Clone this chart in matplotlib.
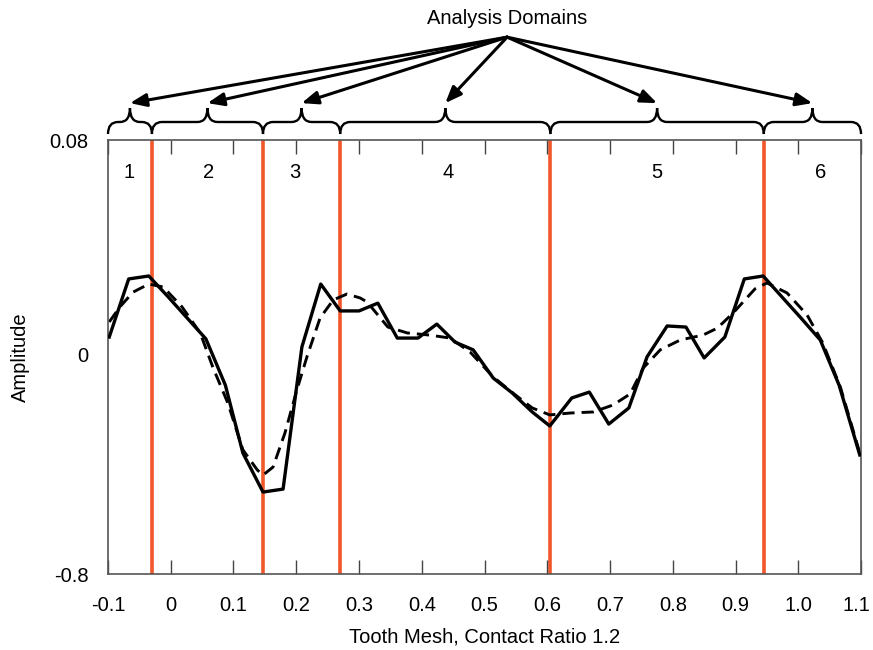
import matplotlib
matplotlib.use('Agg')
import matplotlib.pyplot as plt
import matplotlib.transforms as mtransforms
from matplotlib.path import Path
from matplotlib.patches import PathPatch
import numpy as np

plt.rcParams['font.family'] = ['Liberation Sans', 'DejaVu Sans']

# measured signal (solid) and its fit (dashed)
x_meas = [-0.098, -0.067, -0.035, -0.004, 0.026, 0.056, 0.087, 0.115, 0.147, 0.179,
          0.209, 0.239, 0.270, 0.300, 0.330, 0.361, 0.394, 0.424, 0.453, 0.482,
          0.514, 0.544, 0.576, 0.604, 0.639, 0.667, 0.698, 0.730, 0.759, 0.791,
          0.821, 0.850, 0.883, 0.914, 0.944, 0.974, 1.003, 1.035, 1.065, 1.098]
y_meas = [0.0067, 0.0283, 0.0294, 0.0216, 0.0138, 0.0060, -0.0112, -0.0365, -0.0510, -0.0499,
          0.0030, 0.0264, 0.0164, 0.0164, 0.0193, 0.0063, 0.0063, 0.0115, 0.0048, 0.0019,
          -0.0086, -0.0141, -0.0212, -0.0264, -0.0160, -0.0138, -0.0257, -0.0197, -0.0007, 0.0108,
          0.0104, -0.0011, 0.0067, 0.0283, 0.0294, 0.0216, 0.0141, 0.0056, -0.0112, -0.0372]

x_fit = [-0.098, -0.081, -0.060, -0.035, -0.012, 0.018, 0.047, 0.067, 0.091, 0.115,
         0.138, 0.147, 0.163, 0.182, 0.201, 0.217, 0.238, 0.259, 0.281, 0.302,
         0.313, 0.346, 0.377, 0.413, 0.445, 0.477, 0.514, 0.545, 0.576, 0.604,
         0.636, 0.673, 0.705, 0.732, 0.753, 0.780, 0.812, 0.848, 0.871, 0.896,
         0.931, 0.950, 0.982, 1.014, 1.039, 1.067, 1.098]
y_fit = [0.0123, 0.0179, 0.0234, 0.0264, 0.0253, 0.0179, 0.0082, -0.0045, -0.0179, -0.0353,
         -0.0428, -0.0447, -0.0417, -0.0290, -0.0130, -0.0007, 0.0138, 0.0205, 0.0227, 0.0212,
         0.0197, 0.0104, 0.0082, 0.0074, 0.0063, 0.0011, -0.0082, -0.0141, -0.0197, -0.0223,
         -0.0216, -0.0212, -0.0186, -0.0145, -0.0048, 0.0019, 0.0056, 0.0074, 0.0100, 0.0156,
         0.0246, 0.0268, 0.0231, 0.0149, 0.0045, -0.0119, -0.0365]

# domain boundaries and numbers
boundaries = [-0.03, 0.147, 0.27, 0.605, 0.945]
domain_labels = ['1', '2', '3', '4', '5', '6']
label_x = [-0.066, 0.060, 0.198, 0.442, 0.775, 1.036]

xticks = [-0.1, 0, 0.1, 0.2, 0.3, 0.4, 0.5, 0.6, 0.7, 0.8, 0.9, 1.0, 1.1]
xticklabels = ['-0.1', '0', '0.1', '0.2', '0.3', '0.4', '0.5', '0.6', '0.7', '0.8', '0.9', '1.0', '1.1']
yticks = [-0.0815, 0, 0.08]
yticklabels = ['-0.8', '0', '0.08']

xmin, xmax = -0.1, 1.1
red = '#f2572a'
fs = 14.5

fig = plt.figure(figsize=(8.73, 6.5), dpi=100)
ax = fig.add_axes([0.1237, 0.1169, 0.8626, 0.6677])

for b in boundaries:
    ax.axvline(b, color=red, lw=2.6, zorder=1)

ax.plot(x_fit, y_fit, color='black', lw=2.1, ls=(0, (4.2, 2.4)), zorder=2)
ax.plot(x_meas, y_meas, color='black', lw=2.4, zorder=3)

ax.set_xlim(xmin, xmax)
ax.set_ylim(-0.0815, 0.08)
ax.set_xticks(xticks)
ax.set_xticklabels(xticklabels, fontsize=fs)
ax.set_yticks(yticks)
ax.set_yticklabels(yticklabels, fontsize=fs)
ax.tick_params(axis='x', direction='in', length=10, width=1, top=True, pad=16, color='#444444')
ax.tick_params(axis='y', length=0, pad=14)
for s in ax.spines.values():
    s.set_color('#555555')
    s.set_linewidth(1.2)

# keep the last tick label inside the figure
last = ax.get_xticklabels()[-1]
last.set_transform(last.get_transform() + mtransforms.ScaledTranslation(-3 / 72, 0, fig.dpi_scale_trans))

ax.set_xlabel('Tooth Mesh, Contact Ratio 1.2', fontsize=fs, labelpad=9)
ax.set_ylabel('Amplitude', fontsize=fs, labelpad=14)

trans = mtransforms.blended_transform_factory(ax.transData, ax.transAxes)

for lx, lab in zip(label_x, domain_labels):
    ax.text(lx, 0.926, lab, transform=trans, ha='center', va='center', fontsize=fs)

# braces above the axes
edges = [xmin] + boundaries + [xmax]
mids = [(edges[i] + edges[i + 1]) / 2 for i in range(len(edges) - 1)]
yb, yh, yt = 1.0138, 1.0415, 1.0737
r = 0.016
for i in range(len(edges) - 1):
    x0, x1, xm = edges[i], edges[i + 1], mids[i]
    verts = [(x0, yb), (x0, yh), (x0 + r, yh),
             (xm - r, yh),
             (xm, yh), (xm, yt),
             (xm, yh), (xm + r, yh),
             (x1 - r, yh),
             (x1, yh), (x1, yb)]
    codes = [Path.MOVETO, Path.CURVE3, Path.CURVE3,
             Path.LINETO,
             Path.CURVE3, Path.CURVE3,
             Path.CURVE3, Path.CURVE3,
             Path.LINETO,
             Path.CURVE3, Path.CURVE3]
    ax.add_patch(PathPatch(Path(verts, codes), transform=trans, fill=False,
                           lw=1.7, color='black', clip_on=False))

# arrows from the title
apex_x = 0.536
for m in mids:
    ax.annotate('', xy=(m, 1.085), xycoords=trans, xytext=(apex_x, 1.237), textcoords=trans,
                arrowprops=dict(arrowstyle='-|>,head_length=0.7,head_width=0.28', color='black',
                                lw=2.2, shrinkA=0, shrinkB=0, mutation_scale=14),
                annotation_clip=False)
ax.text(apex_x, 1.281, 'Analysis Domains', transform=trans, ha='center', va='center', fontsize=14.5)

fig.savefig('out.png', dpi=100)
